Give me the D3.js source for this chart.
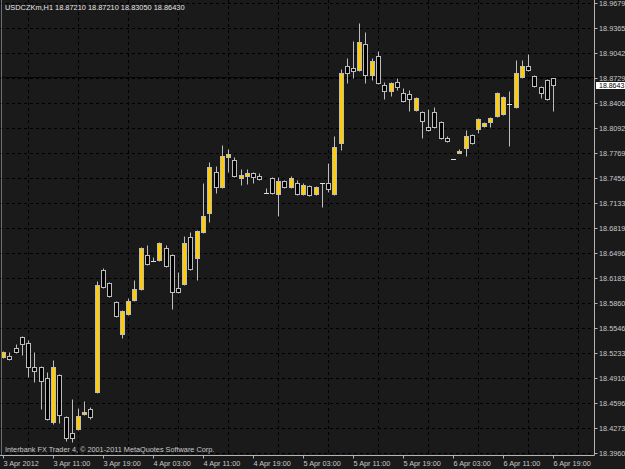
<!DOCTYPE html>
<html>
<head>
<meta charset="utf-8">
<script src="https://cdn.jsdelivr.net/npm/d3@7"></script>
<style>
    html, body { margin: 0; padding: 0; background: #1a1a1a; }
    svg { display: block; }
    text { font-family: "Liberation Sans", Arial, sans-serif; }
</style>
</head>
<body>
<svg id="chart" width="625" height="469"></svg>
<script>
// header and footer texts
const symbolName = 'USDCZKm,H1';
const headerValues = ['18.87210', '18.87210', '18.83050', '18.86430'];
const copyrightText = 'Interbank FX Trader 4, \u00a9 2001-2011 MetaQuotes Software Corp.';

// hourly bars, 3 Apr 03:00 .. 6 Apr 19:00
const openP = [
    18.5180, 18.5193, 18.5295, 18.5434, 18.5358, 18.5053, 18.5053, 18.4913, 18.4354, 18.4952,
    18.4418, 18.4214, 18.4265, 18.4456, 18.4519, 18.4736, 18.6286, 18.6121, 18.5879, 18.5473,
    18.5727, 18.5905, 18.6044, 18.6477, 18.6400, 18.6413, 18.6565, 18.6477, 18.6057, 18.6108,
    18.6705, 18.6438, 18.6769, 18.7010, 18.7531, 18.7341, 18.7722, 18.7684, 18.7455, 18.7480,
    18.7519, 18.7480, 18.7264, 18.7455, 18.7252, 18.7417, 18.7341, 18.7391, 18.7252, 18.7353,
    18.7252, 18.7391, 18.7391, 18.7252, 18.7900, 18.8878, 18.8853, 18.8827, 18.9158, 18.8764,
    18.9005, 18.8637, 18.8561, 18.8675, 18.8535, 18.8522, 18.8319, 18.8294, 18.8103, 18.8294,
    18.8167, 18.7963, 18.7696, 18.7773, 18.7836, 18.8001, 18.8078, 18.8116, 18.8167, 18.8243,
    18.8268, 18.8395, 18.8357, 18.8739, 18.8878, 18.8751, 18.8611, 18.8700, 18.8721
];
const highP = [
    18.5257, 18.5244, 18.5345, 18.5447, 18.5396, 18.5244, 18.5066, 18.4990, 18.5142, 18.4964,
    18.4431, 18.4647, 18.4532, 18.4621, 18.4545, 18.6146, 18.6311, 18.6133, 18.5892, 18.5778,
    18.5930, 18.6159, 18.6578, 18.6604, 18.6451, 18.6642, 18.6604, 18.6489, 18.6260, 18.6718,
    18.6769, 18.6794, 18.7391, 18.7658, 18.7608, 18.7874, 18.7824, 18.7722, 18.7569, 18.7569,
    18.7531, 18.7519, 18.7328, 18.7468, 18.7468, 18.7430, 18.7480, 18.7430, 18.7391, 18.7366,
    18.7353, 18.7391, 18.7646, 18.7989, 18.8840, 18.8980, 18.9196, 18.9425, 18.9310, 18.8980,
    18.9069, 18.8675, 18.8675, 18.8726, 18.8599, 18.8573, 18.8484, 18.8306, 18.8332, 18.8357,
    18.8179, 18.7989, 18.7696, 18.7824, 18.8065, 18.8014, 18.8217, 18.8167, 18.8230, 18.8548,
    18.8497, 18.8561, 18.8955, 18.8955, 18.9031, 18.8764, 18.8624, 18.8713, 18.8721
];
const lowP = [
    18.5168, 18.5142, 18.5231, 18.5206, 18.4926, 18.4863, 18.4519, 18.4380, 18.4329, 18.4342,
    18.4113, 18.4100, 18.4253, 18.4443, 18.4392, 18.4723, 18.6057, 18.5943, 18.5689, 18.5422,
    18.5714, 18.5892, 18.6032, 18.6349, 18.6400, 18.6400, 18.6324, 18.5790, 18.5994, 18.6095,
    18.6286, 18.6159, 18.6756, 18.6896, 18.7264, 18.7328, 18.7531, 18.7468, 18.7366, 18.7379,
    18.7391, 18.7430, 18.7264, 18.7252, 18.6972, 18.7328, 18.7328, 18.7239, 18.7239, 18.7226,
    18.7239, 18.7086, 18.7277, 18.7239, 18.7811, 18.8662, 18.8726, 18.8815, 18.8662, 18.8700,
    18.8650, 18.8459, 18.8497, 18.8573, 18.8421, 18.8306, 18.8306, 18.7963, 18.8052, 18.8090,
    18.7951, 18.7913, 18.7696, 18.7773, 18.7735, 18.7887, 18.8027, 18.8103, 18.8103, 18.8230,
    18.8256, 18.7862, 18.8345, 18.8726, 18.8815, 18.8611, 18.8472, 18.8446, 18.8305
];
const closeP = [
    18.5244, 18.5155, 18.5244, 18.5345, 18.5053, 18.5002, 18.4875, 18.4392, 18.5053, 18.4443,
    18.4151, 18.4151, 18.4431, 18.4481, 18.4418, 18.6095, 18.6070, 18.5955, 18.5701, 18.5765,
    18.5892, 18.6044, 18.6565, 18.6362, 18.6400, 18.6629, 18.6337, 18.6006, 18.6006, 18.6629,
    18.6299, 18.6782, 18.6972, 18.7595, 18.7341, 18.7735, 18.7760, 18.7480, 18.7493, 18.7519,
    18.7468, 18.7442, 18.7264, 18.7264, 18.7417, 18.7341, 18.7455, 18.7252, 18.7366, 18.7239,
    18.7341, 18.7391, 18.7315, 18.7849, 18.8789, 18.8789, 18.8815, 18.9183, 18.8764, 18.8942,
    18.8662, 18.8561, 18.8662, 18.8611, 18.8434, 18.8459, 18.8472, 18.8179, 18.8065, 18.8103,
    18.7963, 18.7925, 18.7696, 18.7798, 18.7989, 18.7900, 18.8205, 18.8154, 18.8217, 18.8535,
    18.8484, 18.8395, 18.8789, 18.8878, 18.8827, 18.8624, 18.8535, 18.8459, 18.8643
];

// time scale labels, one every 8 bars
const timeLabels = ['3 Apr 2012', '3 Apr 11:00', '3 Apr 19:00', '4 Apr 03:00', '4 Apr 11:00', '4 Apr 19:00',
    '5 Apr 03:00', '5 Apr 11:00', '5 Apr 19:00', '6 Apr 03:00', '6 Apr 11:00', '6 Apr 19:00'];
const labelStep = 8;

// price scale labels
const priceTicks = ['18.9679', '18.9365', '18.9042', '18.8729', '18.8406', '18.8092', '18.7769',
    '18.7456', '18.7133', '18.6819', '18.6496', '18.6183', '18.5860', '18.5546', '18.5233',
    '18.4910', '18.4596', '18.4273', '18.3960'];

const lastPrice = 18.8643;
const askPrice = 18.8735;

const svg = d3.select('#chart');
const W = 625, H = 469;
const axisX = 594.5, axisY = 455.5;

const bars = openP.map((o, i) => ({ i, o, h: highP[i], l: lowP[i], c: closeP[i] }));

const x = d3.scaleLinear().domain([0, bars.length - 1]).range([3, 553]);
const y = d3.scaleLinear().domain([18.3960, 18.9679]).range([453, 3]);

const px = v => Math.round(x(v)) + 0.5;
const py = v => Math.round(y(v)) + 0.5;

svg.append('rect').attr('width', W).attr('height', H).attr('fill', '#1a1a1a');

/**
 * grid
 */
const grid = svg.append('g');
grid.selectAll('line.h')
    .data(priceTicks)
    .enter().append('line')
    .attr('class', 'h')
    .attr('x1', 0).attr('x2', axisX)
    .attr('y1', d => py(+d)).attr('y2', d => py(+d))
    .style('stroke', '#000')
    .style('stroke-dasharray', '3,3');

const vGrid = d3.range(labelStep / 2, bars.length + labelStep / 2, labelStep);
grid.selectAll('line.v')
    .data(vGrid)
    .enter().append('line')
    .attr('class', 'v')
    .attr('x1', d => px(d)).attr('x2', d => px(d))
    .attr('y1', 0).attr('y2', axisY)
    .style('stroke', '#000')
    .style('stroke-dasharray', '3,3');

// ask line
svg.append('line')
    .attr('x1', 0).attr('x2', axisX)
    .attr('y1', py(askPrice)).attr('y2', py(askPrice))
    .style('stroke', '#050505');

/**
 * candles
 */
const candles = svg.append('g');
const outline = '#bdbdbd';

candles.selectAll('line.wick')
    .data(bars)
    .enter().append('line')
    .attr('class', 'wick')
    .attr('x1', d => px(d.i)).attr('x2', d => px(d.i))
    .attr('y1', d => py(d.h)).attr('y2', d => py(d.l))
    .style('stroke', outline);

candles.selectAll('rect.body')
    .data(bars.filter(d => Math.abs(y(d.o) - y(d.c)) >= 1.5))
    .enter().append('rect')
    .attr('class', 'body')
    .attr('x', d => px(d.i) - 2)
    .attr('y', d => py(Math.max(d.o, d.c)))
    .attr('width', 4)
    .attr('height', d => py(Math.min(d.o, d.c)) - py(Math.max(d.o, d.c)))
    .style('fill', d => d.c > d.o ? '#ffcc00' : '#000')
    .style('stroke', outline);

candles.selectAll('line.doji')
    .data(bars.filter(d => Math.abs(y(d.o) - y(d.c)) < 1.5))
    .enter().append('line')
    .attr('class', 'doji')
    .attr('x1', d => px(d.i) - 2.5).attr('x2', d => px(d.i) + 2.5)
    .attr('y1', d => py(d.c)).attr('y2', d => py(d.c))
    .style('stroke', '#e0e0e0');

/**
 * axes
 */
const axisColor = '#b4b4b4';
const textColor = '#c8c8c8';

svg.append('line')
    .attr('x1', 1.5).attr('x2', 1.5).attr('y1', 0).attr('y2', axisY)
    .style('stroke', '#6e6e6e');
svg.append('line')
    .attr('x1', 0).attr('x2', axisX).attr('y1', axisY).attr('y2', axisY)
    .style('stroke', axisColor);
svg.append('line')
    .attr('x1', axisX).attr('x2', axisX).attr('y1', 0).attr('y2', axisY)
    .style('stroke', axisColor);

const timeAxis = svg.append('g');
const timeG = timeAxis.selectAll('g')
    .data(timeLabels)
    .enter().append('g')
    .attr('transform', (d, k) => `translate(${px(k * labelStep)},0)`);
timeG.append('line')
    .attr('y1', axisY).attr('y2', axisY + 3)
    .style('stroke', axisColor);
timeG.append('text')
    .attr('x', 0).attr('y', 466)
    .style('font-size', '7.3px')
    .style('fill', textColor)
    .text(d => d);

const priceAxis = svg.append('g');
const priceG = priceAxis.selectAll('g')
    .data(priceTicks)
    .enter().append('g')
    .attr('transform', d => `translate(0,${py(+d)})`);
priceG.append('line')
    .attr('x1', axisX).attr('x2', axisX + 3)
    .style('stroke', axisColor);
priceG.append('text')
    .attr('x', 599).attr('dy', '0.33em')
    .style('font-size', '7.3px')
    .style('fill', textColor)
    .text(d => d);

// current price marker
const lastY = y(lastPrice);
svg.append('rect')
    .attr('x', 596).attr('y', Math.round(lastY) - 3)
    .attr('width', 29).attr('height', 7)
    .style('fill', '#fff');
svg.append('text')
    .attr('x', 599).attr('y', Math.round(lastY) + 0.5).attr('dy', '0.35em')
    .style('font-size', '7px')
    .style('fill', '#000')
    .text(d3.format('.4f')(lastPrice));

// header and footer
svg.append('text')
    .attr('x', 5).attr('y', 10)
    .style('font-size', '7.4px')
    .style('fill', '#e6e6e6')
    .text(symbolName + '  ' + headerValues.join(' '));

svg.append('text')
    .attr('x', 5).attr('y', 452)
    .style('font-size', '7.3px')
    .style('fill', textColor)
    .text(copyrightText);
</script>
</body>
</html>
